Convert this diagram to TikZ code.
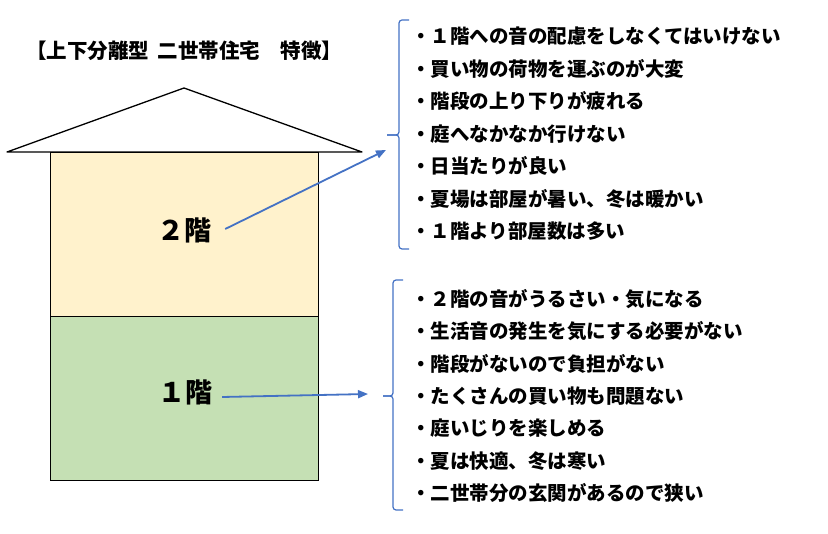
\documentclass[tikz,border=0pt]{standalone}
\usepackage{fontspec}
\setmainfont{Noto Sans CJK JP}
\usetikzlibrary{arrows.meta}
\definecolor{cream}{HTML}{FFF2CC}
\definecolor{lgreen}{HTML}{C5E0B4}
\definecolor{oblue}{HTML}{4472C4}
\begin{document}
\begin{tikzpicture}[x=1pt,y=-1pt,
  item/.style={anchor=west, inner sep=0pt, font=\bfseries\fontsize{19.5}{20}\selectfont, text height=1.19em, text depth=0.07em},
  titlestyle/.style={item, font=\bfseries\fontsize{20.5}{21}\selectfont},
  floorlabel/.style={font=\bfseries\fontsize{27}{28}\selectfont, inner ysep=0pt, text height=1.19em, text depth=0.07em},
  arr/.style={oblue, line width=1.8pt, -{Triangle[length=10pt,width=8pt]}},
  bracestyle/.style={oblue, line width=1.2pt, rounded corners=3pt},
  wall/.style={line width=1.3pt, draw=black}]
\useasboundingbox (0,0) rectangle (828,534);
% house
\node[wall, fill=cream, anchor=north west, minimum width=268pt, minimum height=164pt, inner sep=0pt] (fl2) at (50,152) {};
\node[wall, fill=lgreen, anchor=north west, minimum width=268pt, minimum height=164pt, inner sep=0pt] (fl1) at (50,316) {};
\draw[wall, fill=white, line join=round] (7,152) -- (184,88) -- (362,152) -- cycle;
% title
\node[titlestyle] (title) at (26,53) {【上下分離型\hspace{0.18em} 二世帯住宅　特徴】};
% floor labels
\node[floorlabel, inner xsep=14pt] (f2) at (184,235) {２階};
\node[floorlabel, inner xsep=10pt] (f1) at (185,397) {１階};
% arrow targets
\coordinate (t2) at (386,150);
\coordinate (t1) at (368,394);
\draw[arr] ([yshift=6pt]f2.east) -- (t2);
\draw[arr] (f1.east) -- (t1);
% braces
\draw[bracestyle] (409,20) -- (399,20) -- (399,135) -- (387,135);
\draw[bracestyle] (387,135) -- (399,135) -- (399,249) -- (409,249);
\draw[bracestyle] (403,280) -- (393,280) -- (393,396) -- (383,396);
\draw[bracestyle] (383,396) -- (393,396) -- (393,510) -- (403,510);
% lists
\foreach \t [count=\i] in {・１階への音の配慮をしなくてはいけない, ・買い物の荷物を運ぶのが大変, ・階段の上り下りが疲れる, ・庭へなかなか行けない, ・日当たりが良い, ・夏場は部屋が暑い、冬は暖かい, ・１階より部屋数は多い}
  \node[item] (u\i) at (411, {38.3+32.5*(\i-1)}) {\t};
\foreach \t [count=\i] in {・２階の音がうるさい・気になる, ・生活音の発生を気にする必要がない, ・階段がないので負担がない, ・たくさんの買い物も問題ない, ・庭いじりを楽しめる, ・夏は快適、冬は寒い, ・二世帯分の玄関があるので狭い}
  \node[item] (l\i) at (411, {300.7+32.4*(\i-1)}) {\t};
\end{tikzpicture}
\end{document}
